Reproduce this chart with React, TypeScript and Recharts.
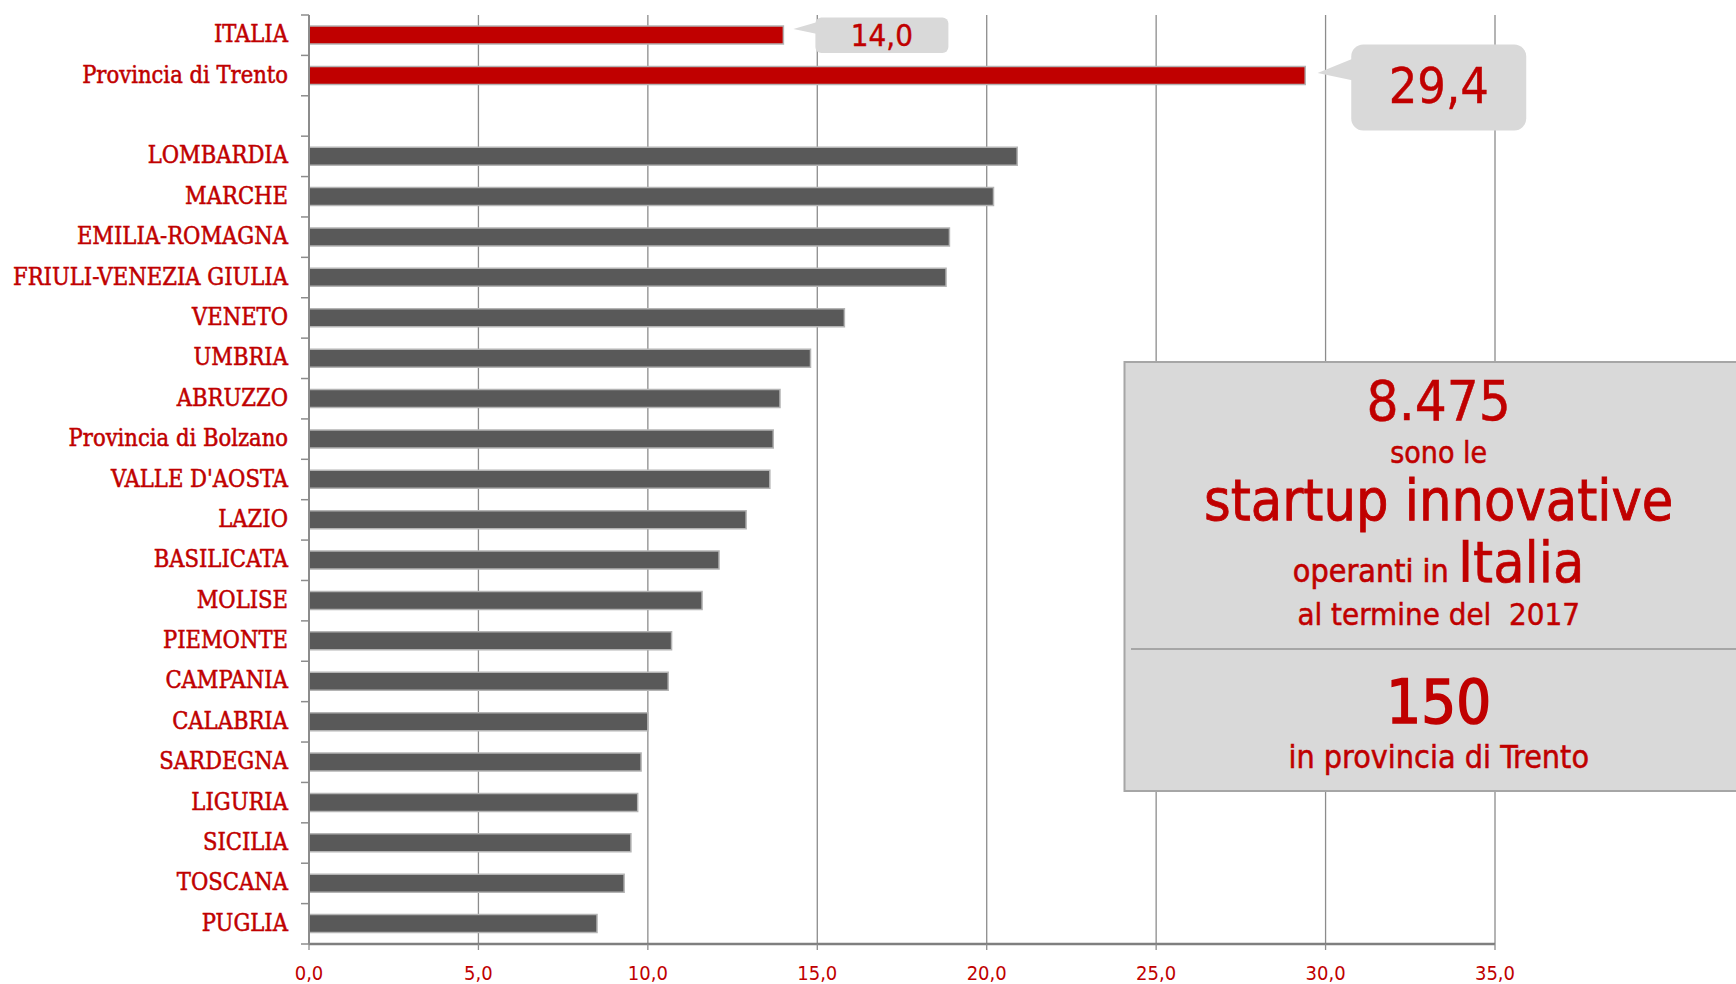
import React from 'react';
import { BarChart, Bar, XAxis, YAxis, CartesianGrid, Cell, LabelList } from 'recharts';

const categories = [
  'ITALIA', 'Provincia di Trento', ' ',
  'LOMBARDIA', 'MARCHE', 'EMILIA-ROMAGNA', 'FRIULI-VENEZIA GIULIA', 'VENETO', 'UMBRIA',
  'ABRUZZO', 'Provincia di Bolzano', "VALLE D'AOSTA", 'LAZIO', 'BASILICATA', 'MOLISE',
  'PIEMONTE', 'CAMPANIA', 'CALABRIA', 'SARDEGNA', 'LIGURIA', 'SICILIA', 'TOSCANA', 'PUGLIA',
];
const values: (number | null)[] = [
  14.0, 29.4, null,
  20.9, 20.2, 18.9, 18.8, 15.8, 14.8,
  13.9, 13.7, 13.6, 12.9, 12.1, 11.6,
  10.7, 10.6, 10.0, 9.8, 9.7, 9.5, 9.3, 8.5,
];
const highlightedCategories = ['ITALIA', 'Provincia di Trento'];
const xTicks = [0, 5, 10, 15, 20, 25, 30, 35];

const infoLines = {
  total: '8.475',
  line1: 'sono le',
  line2: 'startup innovative',
  line3a: 'operanti in ',
  line3b: 'Italia',
  line4: 'al termine del\u00A0 2017',
  province: '150',
  line5: 'in provincia di Trento',
};

const data = categories.map((name, i) => ({ name, value: values[i] }));

const RED = '#C00000';
const BAR_GRAY = '#595959';
const CALLOUT_BG = '#D9D9D9';
const SERIF = "'DejaVu Serif Condensed', 'DejaVu Serif', serif";
const SANS = "'DejaVu Sans Condensed', 'DejaVu Sans', sans-serif";

const fmt = (v: number) => v.toFixed(1).replace('.', ',');

const calloutStyles: Record<string, any> = {
  'ITALIA': { tipDx: 10, tipDy: -6, boxDx: 32, boxDy: -17.6, boxW: 133, boxH: 35.6, r: 6, joinTop: -13, joinBottom: -1, font: 31, baseDy: 10.5 },
  'Provincia di Trento': { tipDx: 12.4, tipDy: -2.5, boxDx: 46, boxDy: -31, boxW: 175, boxH: 86, r: 12, joinTop: -17, joinBottom: 5, font: 50, baseDy: 28 },
};

const YTick = (props: any) => {
  const { x, y, payload, index, visibleTicksCount } = props;
  const half = payload && payload.offset ? payload.offset : 20.2;
  const isLast = index === (visibleTicksCount ?? categories.length) - 1;
  return (
    <g>
      <line x1={x - 8} x2={x} y1={y - half} y2={y - half} stroke="#8c8c8c" strokeWidth={1.5} />
      {isLast && <line x1={x - 8} x2={x} y1={y + half} y2={y + half} stroke="#8c8c8c" strokeWidth={1.5} />}
      <text x={x - 21} y={y + 7} textAnchor="end" fill={RED} stroke={RED} strokeWidth={0.5} fontFamily={SERIF} fontSize={23.5} style={{ fontStretch: 'condensed' }}>
        {payload.value}
      </text>
    </g>
  );
};

const XTick = (props: any) => {
  const { x, y, payload } = props;
  return (
    <text x={x} y={y + 30} textAnchor="middle" fill={RED} fontFamily={SANS} fontSize={20} style={{ fontStretch: 'condensed' }}>
      {fmt(payload.value)}
    </text>
  );
};

const renderCallout = (props: any) => {
  const vb = props.viewBox && props.viewBox.width !== undefined ? props.viewBox : props;
  const idx = props.index;
  const cat = idx !== undefined ? categories[idx] : undefined;
  if (!cat || !calloutStyles[cat]) return null;
  const s = calloutStyles[cat];
  const endX = vb.x + vb.width;
  const cy = vb.y + vb.height / 2;
  const bx = endX + s.boxDx;
  const by = cy + s.boxDy;
  return (
    <g>
      <polygon
        points={`${endX + s.tipDx},${cy + s.tipDy} ${bx + 2},${cy + s.joinTop} ${bx + 2},${cy + s.joinBottom}`}
        fill={CALLOUT_BG}
      />
      <rect x={bx} y={by} width={s.boxW} height={s.boxH} rx={s.r} ry={s.r} fill={CALLOUT_BG} />
      <text x={bx + s.boxW / 2} y={cy + s.baseDy} textAnchor="middle" fill={RED} stroke={RED} strokeWidth={0.4} fontFamily={SANS} fontSize={s.font} style={{ fontStretch: 'condensed' }}>
        {fmt(values[idx] as number)}
      </text>
    </g>
  );
};

const InfoBox = () => {
  const left = 1124.5;
  const top = 362;
  const cx = 1438.7;
  const t = (y: number, size: number, txt: string, sw = 0.5) => (
    <text x={cx} y={y} textAnchor="middle" fill={RED} stroke={RED} strokeWidth={sw} fontFamily={SANS} fontSize={size} style={{ fontStretch: 'condensed' }}>
      {txt}
    </text>
  );
  return (
    <svg width={1736} height={984} style={{ position: 'absolute', left: 0, top: 0, pointerEvents: 'none' }}>
      <rect x={left} y={top} width={640} height={429} fill="#D9D9D9" stroke="#A6A6A6" strokeWidth={2} />
      {t(420, 56, infoLines.total)}
      {t(463, 30, infoLines.line1)}
      {t(520, 57, infoLines.line2, 0.8)}
      <text x={cx} y={581.7} textAnchor="middle" fill={RED} stroke={RED} strokeWidth={0.6} fontFamily={SANS} style={{ fontStretch: 'condensed' }}>
        <tspan fontSize={32}>{infoLines.line3a}</tspan>
        <tspan fontSize={57}>{infoLines.line3b}</tspan>
      </text>
      {t(625, 31, infoLines.line4)}
      <line x1={1131} x2={1736} y1={649} y2={649} stroke="#A6A6A6" strokeWidth={2} />
      {t(723, 61, infoLines.province, 1.6)}
      {t(768, 32, infoLines.line5)}
    </svg>
  );
};

export default function App() {
  return (
    <div style={{ position: 'absolute', left: 0, top: 0, width: 1736, height: 984, overflow: 'hidden', background: '#fff' }}>
      <BarChart
        width={1736}
        height={984}
        data={data}
        layout="vertical"
        margin={{ top: 15, right: 241, bottom: 0, left: 0 }}
        barSize={18}
      >
        <CartesianGrid horizontal={false} vertical stroke="#8c8c8c" strokeWidth={1.3} />
        <XAxis
          type="number"
          domain={[0, 35]}
          ticks={xTicks}
          interval={0}
          height={40}
          axisLine={{ stroke: '#7f7f7f', strokeWidth: 2.5 }}
          tickLine={{ stroke: '#8c8c8c', strokeWidth: 1.3 }}
          tickSize={6}
          tickMargin={0}
          tick={<XTick />}
          allowDataOverflow
        />
        <YAxis
          type="category"
          dataKey="name"
          width={309}
          interval={0}
          axisLine={{ stroke: '#8c8c8c', strokeWidth: 2 }}
          tickLine={false}
          tickSize={0}
          tickMargin={0}
          tick={<YTick />}
        />
        <Bar dataKey="value" isAnimationActive={false} stroke="#b4b4b4" strokeWidth={1.5}>
          {data.map((d, i) => (
            <Cell key={i} fill={highlightedCategories.includes(d.name) ? RED : BAR_GRAY} />
          ))}
          <LabelList dataKey="value" content={renderCallout} />
        </Bar>
      </BarChart>
      <InfoBox />
    </div>
  );
}
